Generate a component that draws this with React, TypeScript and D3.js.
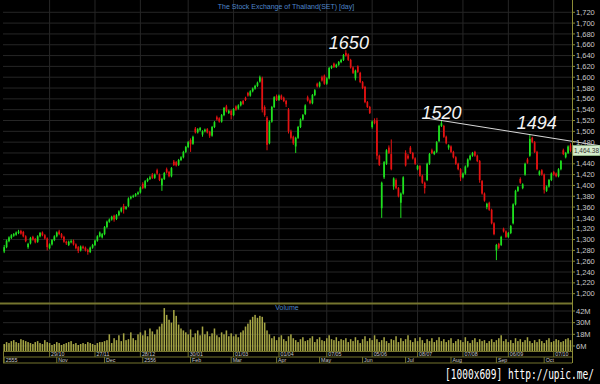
import React from "react";
import * as d3 from "d3";

const W = 600;
const H = 384;

// [open, high, low, close]
const candles: [number, number, number, number][] = [
  [1278,1290,1275,1286],[1286,1300,1284,1298],[1297,1306,1295,1304],[1303,1310,1301,1308],[1307,1312,1305,1310],
  [1309,1315,1307,1313],[1312,1318,1310,1315],[1316,1318,1309,1311],[1314,1316,1304,1306],[1306,1308,1295,1297],
  [1286,1294,1283,1292],[1293,1305,1291,1303],[1305,1307,1298,1300],[1301,1303,1293,1295],[1296,1308,1294,1306],
  [1306,1314,1304,1312],[1313,1315,1306,1308],[1308,1310,1300,1302],[1302,1304,1280,1286],[1284,1293,1282,1291],
  [1291,1301,1289,1299],[1299,1308,1297,1306],[1306,1315,1304,1313],[1315,1318,1308,1310],[1310,1312,1302,1304],
  [1305,1307,1294,1296],[1296,1298,1290,1293],[1290,1298,1288,1296],[1295,1300,1293,1297],[1298,1300,1289,1291],
  [1291,1293,1282,1284],[1286,1288,1275,1279],[1280,1289,1278,1287],[1287,1289,1282,1284],[1285,1287,1278,1280],
  [1281,1283,1272,1277],[1277,1287,1275,1285],[1285,1292,1283,1290],[1290,1300,1288,1298],[1298,1308,1296,1306],
  [1306,1315,1304,1313],
  [1304,1312,1302,1310],[1310,1325,1308,1323],[1323,1335,1321,1333],[1333,1339,1331,1337],[1337,1344,1335,1342],
  [1344,1346,1333,1337],[1338,1347,1336,1345],[1345,1354,1343,1352],[1352,1360,1350,1358],[1362,1366,1348,1356],
  [1357,1362,1355,1360],[1362,1378,1360,1376],[1376,1381,1374,1379],[1379,1383,1377,1381],[1381,1386,1379,1384],
  [1384,1389,1382,1387],[1387,1398,1385,1396],[1403,1406,1393,1395],[1396,1410,1394,1408],[1408,1414,1406,1412],
  [1412,1418,1410,1415],[1420,1423,1412,1414],[1414,1422,1412,1420],[1428,1431,1420,1422],[1420,1422,1408,1410],
  [1400,1414,1390,1412],[1412,1425,1410,1423],[1430,1433,1422,1424],[1425,1427,1415,1417],[1417,1434,1415,1432],
  [1444,1447,1436,1438],[1443,1445,1435,1437],[1438,1449,1436,1447],[1447,1454,1445,1452],[1452,1464,1450,1462],
  [1462,1473,1460,1471],[1471,1482,1469,1480],[1484,1487,1462,1476],[1477,1492,1475,1490],[1505,1508,1496,1498],
  [1498,1506,1496,1504],[1502,1508,1500,1506],
  [1494,1502,1490,1500],[1500,1505,1498,1503],[1504,1506,1496,1498],[1499,1501,1488,1492],[1492,1510,1490,1508],
  [1508,1519,1506,1517],[1526,1529,1520,1522],[1524,1526,1516,1518],[1518,1532,1516,1530],[1530,1545,1528,1543],
  [1546,1549,1535,1537],[1534,1540,1532,1538],[1538,1540,1522,1530],[1530,1543,1528,1541],[1546,1548,1538,1540],
  [1542,1550,1540,1548],[1548,1556,1546,1554],[1556,1558,1549,1551],[1562,1564,1556,1558],[1571,1573,1564,1566],
  [1566,1576,1564,1574],[1574,1581,1572,1579],[1579,1586,1577,1584],[1584,1592,1582,1590],[1592,1603,1590,1600],
  [1598,1601,1535,1540],[1545,1548,1527,1530],[1525,1528,1465,1475],[1478,1520,1476,1518],[1518,1547,1516,1545],
  [1545,1565,1543,1563],[1565,1568,1556,1558],[1558,1568,1556,1566],[1566,1568,1558,1560],[1562,1564,1554,1556],
  [1556,1558,1545,1550],[1540,1543,1496,1500],[1500,1503,1485,1488],[1490,1492,1475,1478],[1472,1490,1460,1488],
  [1488,1510,1486,1508],[1508,1524,1506,1522],[1522,1532,1520,1530],[1532,1550,1530,1548],
  [1563,1566,1555,1557],[1557,1559,1550,1552],[1552,1569,1550,1567],[1567,1578,1565,1576],[1588,1590,1581,1583],
  [1583,1592,1581,1590],[1600,1603,1592,1594],[1603,1605,1586,1588],[1588,1600,1586,1598],[1598,1619,1596,1617],
  [1617,1622,1615,1620],[1625,1627,1617,1619],[1619,1625,1617,1623],[1623,1630,1621,1628],[1628,1634,1626,1632],
  [1632,1643,1630,1641],[1645,1650,1638,1640],[1642,1644,1630,1632],[1632,1634,1616,1618],[1618,1620,1606,1608],
  [1598,1614,1594,1612],[1620,1622,1608,1610],[1608,1610,1589,1591],[1591,1593,1578,1580],[1582,1584,1552,1554],
  [1554,1556,1543,1545],[1545,1547,1532,1534],[1508,1520,1505,1518],[1520,1524,1513,1515],[1520,1525,1448,1455],
  [1455,1457,1436,1438],[1358,1407,1340,1405],[1415,1445,1412,1443],[1440,1467,1438,1465],[1470,1474,1458,1460],
  [1458,1485,1428,1430],[1398,1415,1392,1413],[1410,1413,1393,1395],[1395,1397,1378,1380],[1368,1387,1340,1385],
  [1385,1417,1383,1415],[1460,1465,1435,1437],[1455,1458,1448,1450],[1470,1473,1458,1460],[1460,1462,1448,1450],
  [1450,1452,1438,1440],[1430,1438,1428,1436],[1436,1438,1416,1418],[1418,1420,1403,1405],[1405,1407,1385,1395],
  [1410,1442,1408,1440],[1440,1460,1438,1458],[1465,1468,1458,1460],[1458,1464,1456,1462],[1462,1482,1460,1480],
  [1482,1512,1480,1510],[1510,1520,1508,1515],[1510,1512,1488,1490],[1490,1492,1476,1478],[1470,1476,1466,1474],
  [1472,1474,1460,1462],[1462,1464,1450,1452],[1452,1454,1438,1440],[1440,1442,1428,1430],[1430,1432,1408,1415],
  [1415,1424,1413,1422],[1422,1437,1420,1435],[1435,1450,1433,1448],[1448,1457,1446,1455],[1455,1462,1453,1460],
  [1462,1464,1453,1455],[1455,1457,1443,1445],[1445,1447,1405,1410],[1408,1410,1383,1385],[1385,1387,1370,1372],
  [1360,1368,1356,1366],[1368,1370,1353,1355],[1355,1357,1328,1330],[1330,1332,1308,1310],[1280,1292,1262,1290],
  [1292,1294,1282,1285],[1290,1307,1288,1305],[1320,1322,1313,1315],[1315,1317,1303,1305],[1305,1314,1303,1312],
  [1312,1327,1310,1325],[1330,1367,1328,1365],[1365,1392,1363,1390],[1390,1399,1388,1397],[1412,1415,1403,1405],
  [1395,1404,1393,1402],[1420,1442,1418,1440],[1448,1451,1440,1442],[1455,1494,1453,1486],[1488,1490,1478,1480],
  [1480,1482,1460,1462],[1462,1464,1428,1430],[1420,1428,1418,1426],[1428,1430,1418,1420],[1420,1422,1385,1392],
  [1390,1400,1388,1398],[1398,1412,1396,1410],[1410,1424,1408,1422],[1425,1427,1418,1420],[1422,1424,1415,1417],
  [1417,1432,1415,1430],[1430,1447,1428,1445],[1465,1468,1456,1458],[1452,1462,1450,1460],[1460,1474,1458,1472],
  [1474,1478,1462,1464.38],
];

// volume in millions
const volumes: number[] = [
  8,10,9,11,12,10,9,13,12,11,10,9,8,10,11,9,8,12,10,9,7,
  8,10,9,7,8,9,10,11,8,9,7,8,9,8,10,9,8,7,9,10,
  10,11,12,18,9,14,12,17,11,19,12,13,20,14,12,18,
  20,17,22,16,24,21,18,23,26,29,45,38,33,30,43,37,28,24,22,
  20,18,23,15,19,22,17,26,18,21,16,19,24,17,15,20,18,22,16,19,
  16,18,15,20,22,26,29,33,36,38,35,37,36,30,22,18,
  14,16,12,15,17,13,11,16,18,14,12,10,13,15,11,12,14,16,10,13,15,12,11,14,17,13,12,15,11,13,
  12,14,10,13,11,15,12,9,13,16,11,14,12,17,13,10,12,15,11,9,
  13,12,16,10,14,11,13,17,12,10,14,11,15,12,9,13,11,14,10,12,
  15,11,13,10,12,14,9,11,13,12,10,15,11,9,12,14,10,13,11,12,
  9,11,13,10,12,14,17,11,13,10,12,9,14,11,13,10,12,15,11,9,
  12,10,13,11,9,12,14,10,11,13,12,10,11,13,14,12,
];

const dateTickIndex = [19, 38, 57, 77, 96, 115, 135, 154, 173, 192, 211, 230];
const dateTickLabel = ["29/10", "27/11", "28/12", "30/01", "01/03", "01/04", "07/05", "05/06", "08/07", "07/08", "06/09", "07/10"];
const monthTickIndex = [0, 22, 42, 58, 78, 95, 114, 132, 150, 168, 187, 206, 226];
const monthTickLabel = ["2555", "Nov", "Dec", "2556", "Feb", "Mar", "Apr", "May", "Jun", "Jul", "Aug", "Sep", "Oct"];

const priceTicks = d3.range(1200, 1721, 20);
const volumeTicks = [6, 18, 30, 42];
const lastPrice = 1464.38;

const peakLabels = [
  { i: 143, v: 1650, text: "1650", dx: 3, dy: -1 },
  { i: 183, v: 1520, text: "1520", dx: 0, dy: -2 },
  { i: 220, v: 1494, text: "1494", dx: 7, dy: -6 },
];
const trendAnchors = [
  { i: 183, v: 1520 },
  { i: 220, v: 1494 },
];
const trendSpan = [177, 250];

const TITLE = "The Stock Exchange of Thailand(SET) [day]";
const WATERMARK = "[1000x609] http://upic.me/";

export default function App() {
  const N = candles.length;
  const plotL = 3;
  const plotR = 571;
  const axisX = 572;
  const priceTop = 0;
  const priceBottom = 302;

  const x = d3.scaleBand<number>().domain(d3.range(N)).range([plotL, plotR]).paddingInner(0.28);
  const step = x.step();
  const xc = (i: number) => plotL + (i + 0.5) * step;
  const yP = d3.scaleLinear().domain([1184.6, 1742.7]).range([priceBottom, priceTop]);
  const yV = d3.scaleLinear().domain([0, 42]).range([351.8, 311]);

  const green = "#1fe01f";
  const red = "#e41212";
  const olive = "#75752e";
  const grid = "#262626";
  const font = "'Liberation Sans', Arial, sans-serif";

  const fmt = d3.format(",");

  const tA = trendAnchors[0];
  const tB = trendAnchors[1];
  const tv = (i: number) => tA.v + ((tB.v - tA.v) * (i - tA.i)) / (tB.i - tA.i);
  const bodyW = Math.max(1, x.bandwidth());
  const volW = Math.max(1, x.bandwidth() * 0.9);
  const lastY = yP(lastPrice);

  return (
    <svg width={W} height={H} style={{ position: "absolute", left: 0, top: 0, background: "#000" }}>
      <rect x={0} y={0} width={W} height={H} fill="#000" />
      {priceTicks.map((t) => (
        <line key={"hg" + t} x1={plotL} x2={axisX} y1={yP(t)} y2={yP(t)} stroke={grid} strokeWidth={1} />
      ))}
      {volumeTicks.map((t) => (
        <line key={"vg" + t} x1={plotL} x2={axisX} y1={yV(t)} y2={yV(t)} stroke={grid} strokeWidth={1} />
      ))}
      {dateTickIndex.map((i) => (
        <line key={"xg" + i} x1={xc(i)} x2={xc(i)} y1={0} y2={351} stroke={grid} strokeWidth={1} />
      ))}

      <text x={286} y={9} fontSize={7} fill="#4f86c9" fontFamily={font} textAnchor="middle">{TITLE}</text>

      {candles.map(([o, h, l, c], i) => {
        const col = c >= o ? green : red;
        const top = yP(Math.max(o, c));
        const bot = yP(Math.min(o, c));
        return (
          <g key={"c" + i}>
            <line x1={xc(i)} x2={xc(i)} y1={yP(h)} y2={yP(l)} stroke={col} strokeWidth={1} />
            <rect x={xc(i) - bodyW / 2} y={top} width={bodyW} height={Math.max(1, bot - top)} fill={col} />
          </g>
        );
      })}

      <line
        x1={xc(trendSpan[0])}
        y1={yP(tv(trendSpan[0]))}
        x2={xc(trendSpan[1])}
        y2={yP(tv(trendSpan[1]))}
        stroke="#d8d8d8"
        strokeWidth={1}
      />

      {peakLabels.map((p) => (
        <text
          key={p.text}
          x={xc(p.i) + p.dx}
          y={yP(p.v) + p.dy}
          fontSize={18}
          fontStyle="italic"
          fill="#f4f4f4"
          fontFamily={font}
          textAnchor="middle"
        >
          {p.text}
        </text>
      ))}

      <line x1={0} x2={axisX} y1={303.5} y2={303.5} stroke={olive} strokeWidth={2} />
      <text x={287} y={310} fontSize={7} fill="#4f86c9" fontFamily={font} textAnchor="middle">Volume</text>

      {volumes.map((v, i) => (
        <rect key={"v" + i} x={xc(i) - volW / 2} y={yV(v)} width={volW} height={yV(0) - yV(v)} fill="#a5a544" />
      ))}

      <line x1={axisX + 0.5} x2={axisX + 0.5} y1={0} y2={363} stroke="#8c8c36" strokeWidth={1} />
      {priceTicks.map((t) => (
        <g key={"pl" + t}>
          <line x1={axisX} x2={axisX + 3} y1={yP(t)} y2={yP(t)} stroke="#8c8c36" />
          {Math.abs(yP(t) - lastY) > 6 && (
            <text x={576} y={yP(t) + 2.6} fontSize={7.5} fill="#c8c8c8" fontFamily={font}>{fmt(t)}</text>
          )}
        </g>
      ))}
      {volumeTicks.map((t) => (
        <g key={"vl" + t}>
          <line x1={axisX} x2={axisX + 3} y1={yV(t)} y2={yV(t)} stroke="#8c8c36" />
          <text x={576} y={yV(t) + 2.6} fontSize={7.5} fill="#c8c8c8" fontFamily={font}>{t + "M"}</text>
        </g>
      ))}
      <rect x={573} y={lastY - 5} width={27} height={10} fill="#d5ebcd" stroke="#9fcf95" strokeWidth={0.6} />
      <text x={574} y={lastY + 2.5} fontSize={7} fill="#333" fontFamily={font} textLength={25} lengthAdjust="spacingAndGlyphs">
        {d3.format(",.2f")(lastPrice)}
      </text>

      <line x1={plotL} x2={axisX} y1={351.5} y2={351.5} stroke={olive} />
      <line x1={plotL} x2={axisX} y1={357} y2={357} stroke={olive} />
      <line x1={plotL} x2={axisX} y1={363} y2={363} stroke={olive} />
      <line x1={plotL + 0.5} x2={plotL + 0.5} y1={351.5} y2={363} stroke={olive} />
      {dateTickIndex.map((i, k) => (
        <g key={"dt" + i}>
          <line x1={xc(i)} x2={xc(i)} y1={351.5} y2={357} stroke={olive} />
          <text x={xc(i) + 1.5} y={356} fontSize={5.3} fill="#c8c8c8" fontFamily={font}>{dateTickLabel[k]}</text>
        </g>
      ))}
      {monthTickIndex.map((i, k) => (
        <g key={"mt" + i}>
          <line x1={xc(i)} x2={xc(i)} y1={357} y2={363} stroke={olive} />
          <text x={xc(i) + 1.5} y={362} fontSize={5.3} fill="#c8c8c8" fontFamily={font}>{monthTickLabel[k]}</text>
        </g>
      ))}

      <text
        transform="translate(445,379) scale(0.68,1)"
        x={0}
        y={0}
        fontSize={14}
        fill="#ffffff"
        fontFamily="'DejaVu Sans Mono', monospace"
      >
        {WATERMARK}
      </text>
    </svg>
  );
}
